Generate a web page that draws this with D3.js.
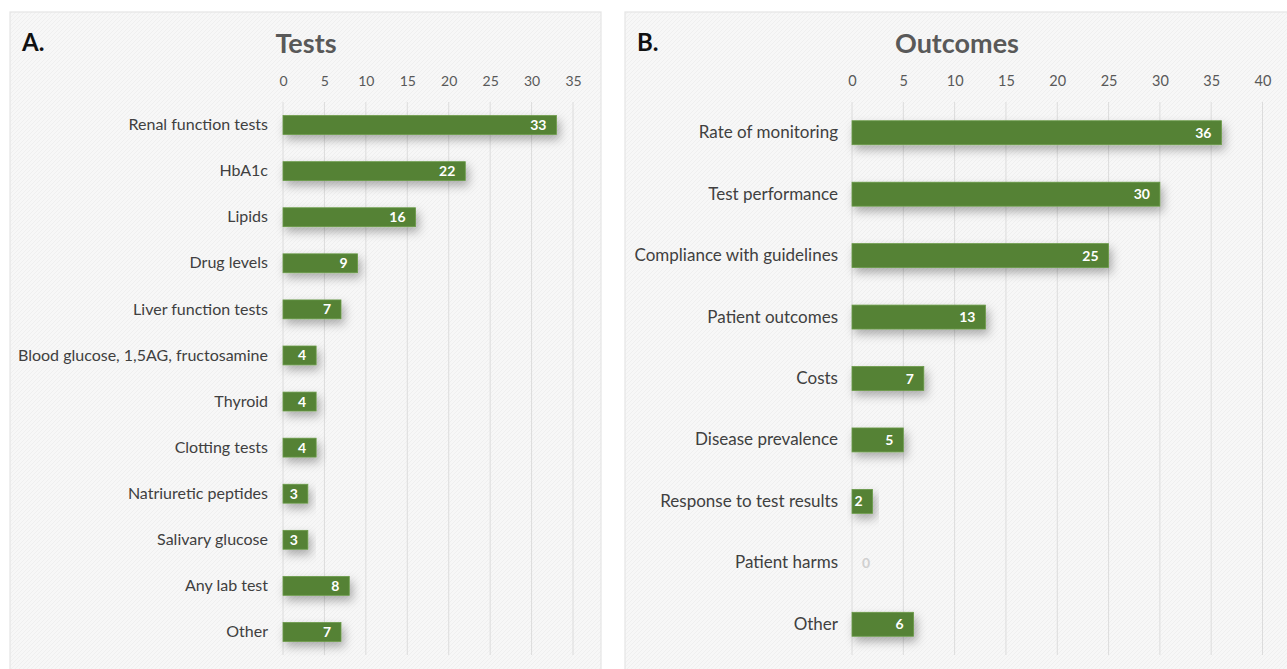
<!DOCTYPE html>
<html>
<head>
<meta charset="utf-8">
<script src="https://cdn.jsdelivr.net/npm/d3@7"></script>
<style>
  html, body { margin: 0; padding: 0; background: #ffffff; }
  svg { display: block; }
  text { font-family: Lato, "Open Sans", sans-serif; }
</style>
</head>
<body>
<svg id="chart" width="1287" height="669"></svg>
<script>
// ---- Data ----
const testCategories = ["Renal function tests", "HbA1c", "Lipids", "Drug levels", "Liver function tests",
  "Blood glucose, 1,5AG, fructosamine", "Thyroid", "Clotting tests", "Natriuretic peptides",
  "Salivary glucose", "Any lab test", "Other"];
const testValues = [33, 22, 16, 9, 7, 4, 4, 4, 3, 3, 8, 7];
const testTicks = [0, 5, 10, 15, 20, 25, 30, 35];

const outcomeCategories = ["Rate of monitoring", "Test performance", "Compliance with guidelines",
  "Patient outcomes", "Costs", "Disease prevalence", "Response to test results", "Patient harms", "Other"];
const outcomeValues = [36, 30, 25, 13, 7, 5, 2, 0, 6];
const outcomeTicks = [0, 5, 10, 15, 20, 25, 30, 35, 40];

const panelTitles = ["Tests", "Outcomes"];
const panelLetters = ["A.", "B."];

// ---- Drawing ----
const svg = d3.select("#chart");
const defs = svg.append("defs");

const pat = defs.append("pattern").attr("id", "hatch").attr("patternUnits", "userSpaceOnUse")
  .attr("width", 4).attr("height", 4);
pat.append("rect").attr("width", 4).attr("height", 4).attr("fill", "#f7f7f7");
pat.append("path").attr("d", "M-1,1 l2,-2 M0,4 l4,-4 M3,5 l2,-2")
  .attr("stroke", "#efefef").attr("stroke-width", 1);

const f = defs.append("filter").attr("id", "shadow").attr("x", "-20%").attr("y", "-80%")
  .attr("width", "150%").attr("height", "300%");
f.append("feDropShadow").attr("dx", 3).attr("dy", 5).attr("stdDeviation", 5)
  .attr("flood-color", "#000").attr("flood-opacity", 0.3);

function panel(cfg) {
  const g = svg.append("g");
  g.append("rect").attr("x", cfg.px).attr("y", cfg.py).attr("width", cfg.pw).attr("height", cfg.ph)
    .attr("fill", "url(#hatch)").attr("stroke", "#e4e4e4").attr("stroke-width", 1.2);

  g.append("text").attr("x", cfg.px + 12).attr("y", cfg.py + 39)
    .attr("font-size", 24).attr("font-weight", "bold").attr("fill", "#111")
    .text(cfg.letter);
  g.append("text").attr("x", cfg.titleX).attr("y", cfg.py + 41)
    .attr("text-anchor", "middle").attr("font-size", 27).attr("font-weight", "bold")
    .attr("fill", "#595959").text(cfg.title);

  const x = d3.scaleLinear().domain([0, cfg.max]).range([cfg.x0, cfg.x1]);
  const y = d3.scaleBand().domain(cfg.categories).range([cfg.y0, cfg.y1]).paddingInner(cfg.pad).paddingOuter(cfg.pad / 2);

  // gridlines
  g.append("g").selectAll("line").data(cfg.ticks).join("line")
    .attr("x1", d => x(d)).attr("x2", d => x(d))
    .attr("y1", cfg.y0).attr("y2", cfg.y1)
    .attr("stroke", "#dcdcdc").attr("stroke-width", 1);

  // top axis labels
  const axis = d3.axisTop(x).tickValues(cfg.ticks).tickSize(0).tickPadding(0);
  const ag = g.append("g").attr("transform", `translate(0,${cfg.tickY})`).call(axis);
  ag.select(".domain").remove();
  ag.selectAll("text").attr("font-size", cfg.tickFont).attr("fill", "#595959")
    .attr("font-family", "Lato, 'Open Sans', sans-serif").attr("dy", "0.35em");

  // category labels
  const yAxis = d3.axisLeft(y).tickSize(0).tickPadding(cfg.labelPad);
  const yg = g.append("g").attr("transform", `translate(${cfg.x0},0)`).call(yAxis);
  yg.select(".domain").remove();
  yg.selectAll("text").attr("font-size", cfg.labelFont).attr("fill", "#404040")
    .attr("font-family", "Lato, 'Open Sans', sans-serif");

  const data = cfg.categories.map((c, i) => ({ c, v: cfg.values[i] }));
  g.append("g").selectAll("rect").data(data.filter(d => d.v > 0)).join("rect")
    .attr("x", x(0)).attr("y", d => y(d.c))
    .attr("width", d => x(d.v) - x(0)).attr("height", y.bandwidth())
    .attr("fill", "#548235").attr("stroke", "#6a9a48").attr("stroke-width", 0.8)
    .attr("filter", "url(#shadow)");

  g.append("g").selectAll("text").data(data).join("text")
    .attr("x", d => d.v > 0 ? x(d.v) - 10 : x(0) + 10)
    .attr("y", d => y(d.c) + y.bandwidth() / 2)
    .attr("dy", "0.36em")
    .attr("text-anchor", d => d.v > 0 ? "end" : "start")
    .attr("font-size", 14).attr("font-weight", "bold")
    .attr("fill", d => d.v > 0 ? "#ffffff" : "#d0d0d0")
    .text(d => d.v);
}

panel({
  px: 10, py: 12, pw: 591, ph: 670,
  letter: panelLetters[0], title: panelTitles[0], titleX: 306,
  categories: testCategories, values: testValues, ticks: testTicks, max: 35,
  x0: 283, x1: 573, y0: 102, y1: 655, pad: 0.59, tickY: 81, labelPad: 15,
  labelFont: 16, tickFont: 14
});

panel({
  px: 625, py: 12, pw: 680, ph: 670,
  letter: panelLetters[1], title: panelTitles[1], titleX: 957,
  categories: outcomeCategories, values: outcomeValues, ticks: outcomeTicks, max: 40,
  x0: 852, x1: 1262.5, y0: 102, y1: 655, pad: 0.61, tickY: 81, labelPad: 14,
  labelFont: 17, tickFont: 14.5
});
</script>
</body>
</html>
